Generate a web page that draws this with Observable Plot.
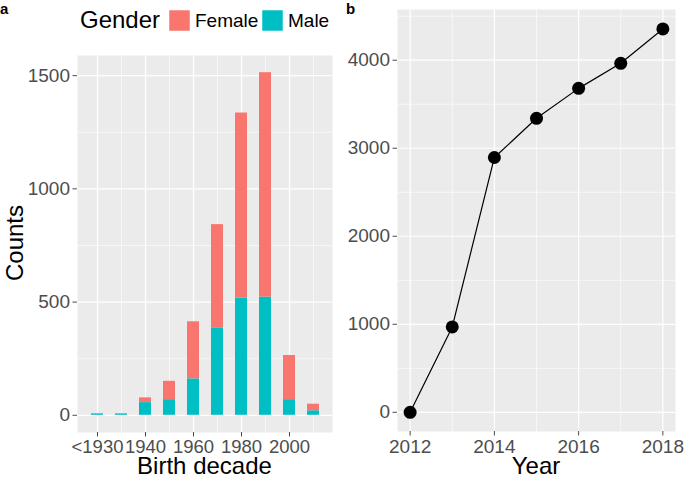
<!DOCTYPE html>
<html>
<head>
<meta charset="utf-8">
<script src="https://cdn.jsdelivr.net/npm/d3@7"></script>
<script src="https://cdn.jsdelivr.net/npm/@observablehq/plot@0.6"></script>
<style>
  body { margin: 0; background: #fff; font-family: "Liberation Sans", Arial, Helvetica, sans-serif; }
  #fig { position: relative; width: 685px; height: 478px; }
  .abs { position: absolute; }
</style>
</head>
<body>
<div id="fig"></div>
<script>
// panel a: birth decade counts by gender
const decades = ['<1930', '1930', '1940', '1950', '1960', '1970', '1980', '1990', '2000', '2010']
const decadeTicks = ['<1930', '1940', '1960', '1980', '2000']
const maleCounts = [5, 6, 56, 69, 161, 384, 518, 522, 69, 20]
const femaleCounts = [3, 1, 21, 81, 252, 458, 817, 991, 195, 29]
const genders = ['Female', 'Male']
const genderColors = ['#F8766D', '#00BFC4']
const countTicks = [0, 500, 1000, 1500]
const countMinor = [250, 750, 1250]

// panel b: cumulative counts per year
const years = [2012, 2013, 2014, 2015, 2016, 2017, 2018]
const cumulative = [0, 970, 2895, 3340, 3680, 3965, 4355]
const yearTicks = [2012, 2014, 2016, 2018]
const yearMinor = [2013, 2015, 2017]
const cumTicks = [0, 1000, 2000, 3000, 4000]
const cumMinor = [500, 1500, 2500, 3500, 4500]

const font = '"Liberation Sans", Arial, Helvetica, sans-serif'

// male first so it sits at the bottom of the stack
const rows = decades.flatMap((d, i) => [
  {decade: d, gender: 'Male', count: maleCounts[i]},
  {decade: d, gender: 'Female', count: femaleCounts[i]},
])
const yearRows = years.map((y, i) => ({year: y, total: cumulative[i]}))

const grid = w => ({stroke: 'white', strokeOpacity: 1, strokeWidth: w})
const plain = d => String(d)

const chartA = Plot.plot({
  width: 340, height: 433,
  marginLeft: 77, marginRight: 8, marginTop: 10, marginBottom: 46,
  style: {fontFamily: font, fontSize: '19px', background: 'transparent', overflow: 'visible'},
  x: {domain: decades, padding: 0.5, axis: null},
  y: {domain: [-76, 1589], axis: null},
  color: {domain: genders, range: genderColors},
  marks: [
    Plot.frame({fill: '#EBEBEB', stroke: null}),
    Plot.gridY(countMinor, grid(0.6)),
    Plot.gridY(countTicks, grid(1.2)),
    Plot.gridX(decades.filter(d => !decadeTicks.includes(d)), grid(0.6)),
    Plot.gridX(decadeTicks, grid(1.2)),
    Plot.barY(rows, {x: 'decade', y: 'count', fill: 'gender'}),
    Plot.axisY(countTicks, {tickSize: 4.5, tickPadding: 3, color: '#4D4D4D', fontSize: 19, tickFormat: plain, label: null}),
    Plot.axisX(decadeTicks, {tickSize: 4.5, tickPadding: 3, color: '#4D4D4D', fontSize: 18.5, label: null}),
  ],
})

const chartB = Plot.plot({
  width: 345, height: 478,
  marginLeft: 57, marginRight: 10, marginTop: 9, marginBottom: 47,
  style: {fontFamily: font, fontSize: '19px', background: 'transparent', overflow: 'visible'},
  x: {domain: [2011.7, 2018.3], axis: null},
  y: {domain: [-218, 4576], axis: null},
  marks: [
    Plot.frame({fill: '#EBEBEB', stroke: null}),
    Plot.gridY(cumMinor, grid(0.6)),
    Plot.gridY(cumTicks, grid(1.2)),
    Plot.gridX(yearMinor, grid(0.6)),
    Plot.gridX(yearTicks, grid(1.2)),
    Plot.line(yearRows, {x: 'year', y: 'total', stroke: 'black', strokeWidth: 1.2}),
    Plot.dot(yearRows, {x: 'year', y: 'total', r: 6.5, fill: 'black', stroke: null}),
    Plot.axisY(cumTicks, {tickSize: 4.5, tickPadding: 3, color: '#4D4D4D', fontSize: 19, tickFormat: plain, label: null}),
    Plot.axisX(yearTicks, {tickSize: 4.5, tickPadding: 3, color: '#4D4D4D', fontSize: 19, tickFormat: plain, label: null}),
  ],
})

const fig = d3.select('#fig')
fig.append(() => chartA).attr('class', 'abs').style('left', '0px').style('top', '45px')
fig.append(() => chartB).attr('class', 'abs').style('left', '340px').style('top', '0px')

/* titles, panel letters and legend */
const over = fig.append('svg').attr('class', 'abs')
  .attr('width', 685).attr('height', 478)
  .style('left', '0px').style('top', '0px')
  .style('font-family', font)

over.append('text').attr('x', 0).attr('y', 13.5).attr('font-size', 15).attr('font-weight', 'bold').text('a')
over.append('text').attr('x', 346).attr('y', 13.5).attr('font-size', 15).attr('font-weight', 'bold').text('b')

over.append('text').attr('x', 204.5).attr('y', 474).attr('text-anchor', 'middle').attr('font-size', 24).text('Birth decade')
over.append('text').attr('x', 536).attr('y', 474).attr('text-anchor', 'middle').attr('font-size', 24).text('Year')
over.append('text').attr('transform', 'translate(23,243) rotate(-90)').attr('text-anchor', 'middle').attr('font-size', 24).text('Counts')

over.append('text').attr('x', 80).attr('y', 28).attr('font-size', 24).text('Gender')
const legendX = [169, 262]
genders.forEach((g, i) => {
  over.append('rect').attr('x', legendX[i]).attr('y', 10).attr('width', 21).attr('height', 21)
    .attr('fill', genderColors[i]).attr('stroke', 'white').attr('stroke-width', 0.5)
  over.append('text').attr('x', legendX[i] + 26).attr('y', 27).attr('font-size', 19).text(g)
})
</script>
</body>
</html>
